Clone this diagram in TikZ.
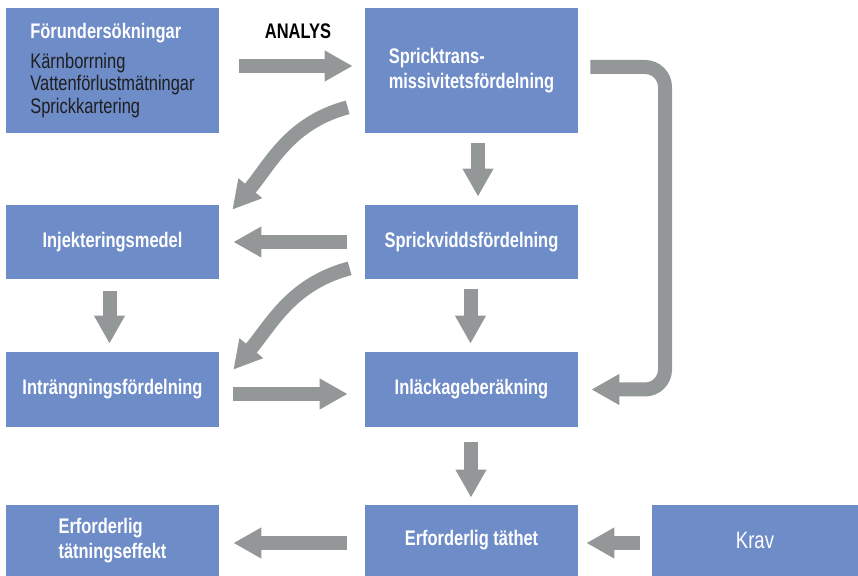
\documentclass[tikz,border=0pt]{standalone}
\usepackage{fontspec}
\setmainfont{Liberation Sans}[FakeStretch=0.78]
\usepackage{xcolor}
\usepackage{tikz}
\usetikzlibrary{arrows.meta, positioning}

\definecolor{boxblue}{HTML}{6E8CC8}
\definecolor{arrgray}{HTML}{939797}
\definecolor{listdark}{HTML}{1E1E1E}

\begin{document}
\begin{tikzpicture}[
  box/.style={rectangle, fill=boxblue, draw=none, inner sep=0pt,
              minimum width=4.26cm, text=white, align=left,
              font=\bfseries\fontsize{12}{13}\selectfont},
  topbox/.style={box, minimum height=2.5cm},
  midbox/.style={box, minimum height=1.48cm},
  lowbox/.style={box, minimum height=1.42cm},
  arr/.style={arrgray, line width=0.28cm,
              -{Triangle[length=0.56cm, width=0.58cm]}}
]
\useasboundingbox (0,0) rectangle (17.16,11.52);

%% ── ROW 0: investigation and transmissivity ──────────────────────────
\node[topbox] at (2.25,10.11) (fund)
  {Förundersökningar\\[4pt]\mdseries\color{listdark}Kärnborrning\\\mdseries\color{listdark}Vattenförlustmätningar\\\mdseries\color{listdark}Sprickkartering};
\node[topbox] at (9.43,10.11) (transm) {Spricktrans-\\[1pt]missivitetsfördelning};

%% ── ROW 1 ────────────────────────────────────────────────────────────
\node[midbox] at (2.25,6.68) (injm) {Injekteringsmedel};
\node[midbox] at (9.43,6.68) (vidd) {Sprickviddsfördelning};

%% ── ROW 2 ────────────────────────────────────────────────────────────
\node[midbox, minimum height=1.5cm] at (2.25,3.73) (intr)   {Inträngningsfördelning};
\node[midbox, minimum height=1.5cm] at (9.43,3.73) (inlack) {Inläckageberäkning};

%% ── ROW 3 ────────────────────────────────────────────────────────────
\node[lowbox] at (2.25,0.71) (effekt) {Erforderlig\\[1pt]tätningseffekt};
\node[lowbox] at (9.43,0.71) (tathet) {Erforderlig täthet};
\node[lowbox, minimum width=4.12cm, font=\fontsize{13.5}{15}\selectfont]
  at (15.1,0.71) (krav) {Krav};

%% ── ANALYS label ─────────────────────────────────────────────────────
\node[font=\bfseries\fontsize{12}{13}\selectfont] at (5.96,10.9) (analys) {ANALYS};

%% ── straight arrows ──────────────────────────────────────────────────
\draw[arr] ([xshift=0.4cm, yshift=0.09cm]fund.east) -- ([xshift=-0.24cm, yshift=0.09cm]transm.west);
\draw[arr] ([xshift=0.13cm, yshift=-0.2cm]transm.south) -- ([xshift=0.13cm, yshift=0.16cm]vidd.north);
\draw[arr] ([xshift=-0.36cm]vidd.west) -- ([xshift=0.28cm]injm.east);
\draw[arr] ([xshift=-0.06cm, yshift=-0.24cm]injm.south) -- ([xshift=-0.06cm, yshift=0.16cm]intr.north);
\draw[arr] ([xshift=-0.02cm, yshift=-0.2cm]vidd.south) -- ([xshift=-0.02cm, yshift=0.16cm]inlack.north);
\draw[arr] ([xshift=0.28cm, yshift=-0.09cm]intr.east) -- ([xshift=-0.34cm, yshift=-0.09cm]inlack.west);
\draw[arr] ([xshift=-0.01cm, yshift=-0.3cm]inlack.south) -- ([xshift=-0.01cm, yshift=0.14cm]tathet.north);
\draw[arr] ([xshift=-0.36cm, yshift=-0.05cm]tathet.west) -- ([xshift=0.28cm, yshift=-0.05cm]effekt.east);
\draw[arr] ([xshift=-0.24cm, yshift=-0.05cm]krav.west) -- ([xshift=0.16cm, yshift=-0.05cm]tathet.east);

%% ── curved arrows ────────────────────────────────────────────────────
\draw[arr] ([shift={(-0.34,0.52)}]transm.south west) to[out=195, in=50] ([shift={(0.26,-0.1)}]injm.north east);
\draw[arr] ([shift={(-0.3,0.22)}]vidd.south west) to[out=195, in=50] ([shift={(0.28,-0.36)}]intr.north east);

%% ── feedback arrow round the right side ──────────────────────────────
\coordinate (bend) at (13.3,0);
\draw[arr, rounded corners=0.4cm] ([xshift=0.24cm, yshift=0.07cm]transm.east)
  -| (bend |- inlack.east) -- ([xshift=0.26cm]inlack.east);

\end{tikzpicture}
\end{document}
